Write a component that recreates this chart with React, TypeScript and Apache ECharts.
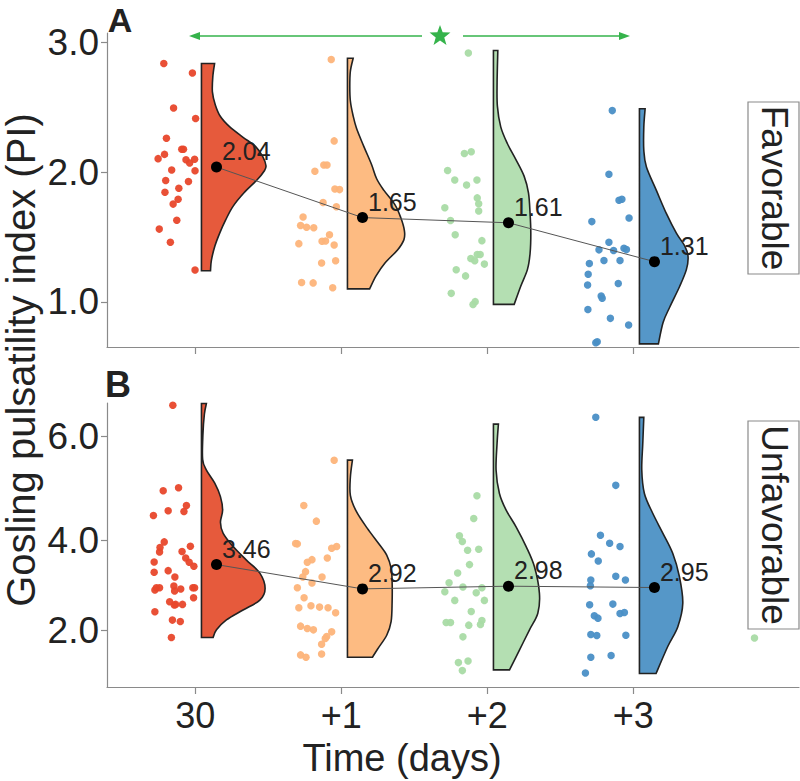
import React, { useEffect, useRef } from 'react';
import * as echarts from 'echarts';

const FONT = '"Liberation Sans", Arial, Helvetica, sans-serif';

const CATEGORIES = ['30', '+1', '+2', '+3'];
const CAT_X = [1, 2, 3, 4];
const FILL_COLORS = ['#e65a3c', '#fdbb82', '#b4dfb2', '#5597c8'];
const POINT_COLORS = ['#e8472b', '#fdb47a', '#a9dba5', '#4a8fc6'];

const MEANS_FAV = [2.04, 1.65, 1.61, 1.31];
const MEANS_UNFAV = [3.46, 2.92, 2.98, 2.95];

const Y_TICKS_FAV = [1, 2, 3];
const Y_TICKS_UNFAV = [2, 4, 6.31];
const Y_TICK_LABELS_UNFAV = ['2.0', '4.0', '6.0'];

// [jitter offset from category, PI value]
const FAV_30 = [[-0.216, 2.84], [-0.02, 2.766], [-0.149, 2.496], [0.002, 2.415], [-0.198, 2.262], [-0.093, 2.178], [-0.081, 2.178], [-0.211, 2.138], [-0.255, 2.105], [-0.064, 2.097], [-0.005, 2.1], [-0.039, 2.072], [-0.162, 2.018], [-0.002, 2.011], [-0.203, 1.937], [-0.047, 1.929], [-0.113, 1.876], [-0.208, 1.845], [-0.118, 1.792], [-0.152, 1.754], [-0.127, 1.629], [-0.247, 1.561], [-0.171, 1.459], [-0.002, 1.246]];
const FAV_P1 = [[-0.069, 2.87], [-0.049, 2.242], [-0.12, 2.056], [-0.098, 2.056], [-0.181, 2.008], [-0.044, 1.871], [-0.012, 1.866], [-0.125, 1.767], [-0.034, 1.734], [-0.262, 1.655], [-0.279, 1.589], [-0.238, 1.576], [-0.189, 1.571], [-0.081, 1.518], [-0.132, 1.467], [-0.108, 1.469], [-0.291, 1.449], [-0.049, 1.439], [-0.039, 1.317], [-0.135, 1.299], [-0.272, 1.149], [-0.193, 1.146], [-0.059, 1.108]];
const FAV_P2 = [[-0.13, 2.921], [-0.157, 2.145], [-0.11, 2.158], [-0.272, 2.013], [-0.223, 1.94], [-0.142, 1.901], [-0.071, 1.94], [-0.069, 1.802], [-0.059, 1.757], [-0.059, 1.701], [-0.291, 1.726], [-0.252, 1.627], [-0.22, 1.518], [-0.037, 1.472], [-0.069, 1.365], [-0.049, 1.365], [-0.113, 1.334], [-0.086, 1.317], [-0.02, 1.291], [-0.213, 1.248], [-0.149, 1.2], [-0.247, 1.065], [-0.083, 1.001], [-0.098, 0.979]];
const FAV_P3 = [[-0.144, 2.476], [-0.167, 1.985], [-0.098, 1.784], [-0.078, 1.792], [-0.029, 1.647], [-0.284, 1.619], [-0.167, 1.459], [-0.235, 1.401], [-0.135, 1.396], [-0.064, 1.413], [-0.047, 1.403], [-0.201, 1.319], [-0.091, 1.319], [-0.301, 1.296], [-0.309, 1.212], [-0.313, 1.129], [-0.103, 1.141], [-0.22, 1.045], [-0.213, 1.027], [-0.311, 0.94], [-0.157, 0.872], [-0.032, 0.821], [-0.247, 0.691], [-0.257, 0.684]];

const UNFAV_30 = [[-0.154, 7.0], [-0.22, 5.101], [-0.115, 5.168], [-0.061, 4.774], [-0.186, 4.655], [-0.078, 4.64], [-0.287, 4.551], [-0.213, 3.964], [-0.034, 3.868], [-0.242, 3.838], [-0.245, 3.741], [-0.091, 3.749], [-0.066, 3.607], [-0.042, 3.511], [-0.01, 3.422], [-0.282, 3.518], [-0.186, 3.325], [-0.282, 3.288], [-0.14, 3.184], [-0.267, 2.946], [-0.245, 2.946], [-0.277, 2.894], [-0.147, 2.983], [-0.1, 2.916], [-0.017, 2.946], [-0.005, 2.946], [-0.142, 2.872], [-0.012, 2.723], [-0.176, 2.634], [-0.135, 2.575], [-0.088, 2.575], [-0.144, 2.56], [-0.277, 2.411], [-0.157, 2.226], [-0.103, 2.196], [-0.164, 1.839]];
const UNFAV_P1 = [[-0.049, 5.777], [-0.257, 4.774], [-0.171, 4.425], [-0.313, 3.927], [-0.301, 3.92], [-0.032, 3.86], [-0.066, 3.823], [-0.201, 3.57], [-0.096, 3.607], [-0.233, 3.511], [-0.245, 3.303], [-0.132, 3.184], [-0.264, 3.184], [-0.201, 3.05], [-0.301, 2.946], [-0.255, 2.723], [-0.208, 2.545], [-0.149, 2.515], [-0.091, 2.5], [-0.291, 2.5], [-0.039, 2.389], [-0.279, 2.092], [-0.233, 2.04], [-0.191, 2.01], [-0.066, 1.965], [-0.1, 1.861], [-0.11, 1.817], [-0.135, 1.691], [-0.279, 1.453], [-0.242, 1.401], [-0.135, 1.475]];
const UNFAV_P2 = [[-0.071, 4.989], [-0.093, 4.484], [-0.191, 4.098], [-0.171, 3.972], [-0.135, 3.778], [-0.059, 3.801], [-0.122, 3.459], [-0.203, 3.273], [-0.262, 3.058], [-0.167, 2.961], [-0.037, 2.946], [-0.291, 2.857], [-0.076, 2.835], [-0.223, 2.664], [-0.02, 2.664], [-0.11, 2.419], [-0.282, 2.173], [-0.252, 2.173], [-0.127, 2.114], [-0.037, 2.218], [-0.047, 2.129], [-0.167, 1.854], [-0.198, 1.282], [-0.132, 1.319], [-0.171, 1.104], [1.83, 1.83]];
const UNFAV_P3 = [[-0.257, 6.735], [-0.12, 5.22], [-0.225, 4.113], [-0.162, 3.934], [-0.091, 3.86], [-0.287, 3.697], [-0.24, 3.541], [-0.291, 3.117], [-0.12, 3.199], [-0.054, 3.117], [-0.294, 2.991], [-0.299, 2.567], [-0.14, 2.582], [-0.267, 2.322], [-0.242, 2.27], [-0.091, 2.374], [-0.061, 2.396], [-0.291, 1.906], [-0.25, 1.884], [-0.051, 1.891], [-0.152, 1.438], [-0.291, 1.401], [-0.328, 1.052]];

// density profiles [PI value, half-violin width in x units], top to bottom
const DENS_FAV_30 = [[2.84, 0.09], [2.74, 0.078], [2.62, 0.075], [2.52, 0.095], [2.43, 0.13], [2.35, 0.194], [2.27, 0.285], [2.2, 0.37], [2.12, 0.42], [2.05, 0.442], [2.01, 0.43], [1.94, 0.38], [1.84, 0.29], [1.735, 0.215], [1.63, 0.165], [1.53, 0.125], [1.43, 0.092], [1.32, 0.068], [1.24, 0.062]];
const DENS_FAV_P1 = [[2.88, 0.039], [2.78, 0.02], [2.66, 0.016], [2.55, 0.02], [2.44, 0.038], [2.34, 0.062], [2.2, 0.112], [2.06, 0.165], [1.95, 0.2], [1.86, 0.25], [1.75, 0.325], [1.65, 0.365], [1.55, 0.39], [1.48, 0.387], [1.4, 0.343], [1.3, 0.257], [1.2, 0.196], [1.1, 0.152]];
const DENS_FAV_P2 = [[2.94, 0.03], [2.69, 0.025], [2.51, 0.027], [2.35, 0.05], [2.22, 0.096], [2.1, 0.153], [1.97, 0.21], [1.84, 0.24], [1.68, 0.251], [1.53, 0.256], [1.375, 0.251], [1.25, 0.233], [1.12, 0.187], [0.98, 0.142]];
const DENS_FAV_P3 = [[2.49, 0.039], [2.35, 0.03], [2.17, 0.03], [2.04, 0.048], [1.86, 0.116], [1.68, 0.185], [1.53, 0.253], [1.43, 0.311], [1.35, 0.333], [1.25, 0.322], [1.12, 0.276], [0.96, 0.208], [0.84, 0.162], [0.675, 0.13]];

const DENS_UNFAV_30 = [[7.04, 0.034], [6.8, 0.02], [6.35, 0.01], [5.8, 0.008], [5.56, 0.034], [5.27, 0.091], [4.97, 0.13], [4.67, 0.145], [4.4, 0.13], [4.16, 0.148], [3.86, 0.217], [3.56, 0.308], [3.27, 0.4], [2.93, 0.436], [2.67, 0.4], [2.45, 0.285], [2.23, 0.171], [2.01, 0.103], [1.84, 0.08]];
const DENS_UNFAV_P1 = [[5.78, 0.034], [5.4, 0.02], [5.0, 0.02], [4.64, 0.061], [4.27, 0.135], [3.9, 0.22], [3.67, 0.269], [3.38, 0.299], [3.08, 0.306], [2.63, 0.306], [2.19, 0.299], [1.89, 0.269], [1.59, 0.208], [1.4, 0.171]];
const DENS_UNFAV_P2 = [[6.58, 0.034], [6.16, 0.025], [5.56, 0.018], [5.04, 0.041], [4.67, 0.087], [4.3, 0.155], [3.86, 0.224], [3.41, 0.281], [2.82, 0.315], [2.38, 0.304], [2.01, 0.247], [1.56, 0.178], [1.12, 0.11]];
const DENS_UNFAV_P3 = [[6.73, 0.03], [6.16, 0.023], [5.56, 0.016], [5.04, 0.034], [4.6, 0.091], [4.16, 0.16], [3.71, 0.228], [3.19, 0.274], [2.6, 0.297], [2.08, 0.263], [1.64, 0.194], [1.04, 0.114]];

const POINTS_FAV = [FAV_30, FAV_P1, FAV_P2, FAV_P3];
const POINTS_UNFAV = [UNFAV_30, UNFAV_P1, UNFAV_P2, UNFAV_P3];
const DENS_FAV = [DENS_FAV_30, DENS_FAV_P1, DENS_FAV_P2, DENS_FAV_P3];
const DENS_UNFAV = [DENS_UNFAV_30, DENS_UNFAV_P1, DENS_UNFAV_P2, DENS_UNFAV_P3];

const VIOLIN_OFFSET = 0.042;
const MEAN_OFFSET = 0.145;
const GREEN = '#35b34b';

function violinRenderer(profiles: number[][][]) {
  return (params: any, api: any) => {
    const g = api.value(0);
    const prof = profiles[g];
    const x0 = CAT_X[g] + VIOLIN_OFFSET;
    const pts = prof.map(([v, w]) => api.coord([x0 + w, v]));
    const top = api.coord([x0, prof[0][0]]);
    const bot = api.coord([x0, prof[prof.length - 1][0]]);
    let d = `M${top[0]},${top[1]} L${pts[0][0]},${pts[0][1]}`;
    for (let i = 0; i < pts.length - 1; i++) {
      const p0 = pts[Math.max(i - 1, 0)];
      const p1 = pts[i];
      const p2 = pts[i + 1];
      const p3 = pts[Math.min(i + 2, pts.length - 1)];
      const c1x = p1[0] + (p2[0] - p0[0]) / 6;
      const c1y = p1[1] + (p2[1] - p0[1]) / 6;
      const c2x = p2[0] - (p3[0] - p1[0]) / 6;
      const c2y = p2[1] - (p3[1] - p1[1]) / 6;
      d += ` C${c1x},${c1y} ${c2x},${c2y} ${p2[0]},${p2[1]}`;
    }
    d += ` L${bot[0]},${bot[1]} Z`;
    return {
      type: 'path',
      shape: { pathData: d },
      style: { fill: FILL_COLORS[g], stroke: '#222', lineWidth: 1.6 },
    };
  };
}

function starPoints(cx: number, cy: number, R: number, r: number) {
  const pts: number[][] = [];
  for (let i = 0; i < 10; i++) {
    const a = -Math.PI / 2 + (i * Math.PI) / 5;
    const rad = i % 2 === 0 ? R : r;
    pts.push([cx + rad * Math.cos(a), cy + rad * Math.sin(a)]);
  }
  return pts;
}

function panelSeries(idx: number, points: number[][][], dens: number[][][], means: number[]) {
  const out: any[] = [];
  out.push({
    type: 'custom',
    xAxisIndex: idx,
    yAxisIndex: idx,
    renderItem: violinRenderer(dens),
    data: [[0, 0], [1, 0], [2, 0], [3, 0]],
    z: 2,
    silent: true,
  });
  points.forEach((grp, g) => {
    out.push({
      type: 'scatter',
      xAxisIndex: idx,
      yAxisIndex: idx,
      symbolSize: 7.5,
      itemStyle: { color: POINT_COLORS[g], opacity: 0.95 },
      data: grp.map(([dx, v]) => [CAT_X[g] + dx, v]),
      z: 3,
    });
  });
  out.push({
    type: 'line',
    xAxisIndex: idx,
    yAxisIndex: idx,
    data: means.map((m, i) => [CAT_X[i] + MEAN_OFFSET, m]),
    symbol: 'circle',
    symbolSize: 11,
    itemStyle: { color: '#000' },
    lineStyle: { color: '#555', width: 1 },
    label: {
      show: true,
      position: 'right',
      distance: 0,
      offset: [0, -16],
      formatter: (p: any) => p.value[1].toFixed(2),
      fontFamily: FONT,
      fontSize: 25,
      color: '#222',
    },
    z: 5,
  });
  return out;
}

const axisLineStyle = { color: '#8a8a8a', width: 1.2 };

export default function App() {
  const ref = useRef<HTMLDivElement>(null);
  useEffect(() => {
    if (!ref.current) return;
    const chart = echarts.init(ref.current, undefined, { renderer: 'svg' });
    const xBase = {
      type: 'value',
      min: 0.395,
      max: 5.135,
      axisLine: { show: true, lineStyle: axisLineStyle },
      axisTick: { show: true, length: 7, customValues: CAT_X, lineStyle: axisLineStyle },
      splitLine: { show: false },
    };
    const yBase = {
      type: 'value',
      axisLine: { show: true, lineStyle: axisLineStyle },
      splitLine: { show: false },
    };
    const option: any = {
      animation: false,
      backgroundColor: '#fff',
      grid: [
        { left: 107, top: 33, width: 692, height: 314 },
        { left: 107, top: 403, width: 692, height: 284 },
      ],
      xAxis: [
        { ...xBase, gridIndex: 0, axisLabel: { show: false } },
        {
          ...xBase,
          gridIndex: 1,
          axisLabel: {
            show: true,
            customValues: CAT_X,
            formatter: (v: number) => CATEGORIES[CAT_X.indexOf(v)] ?? '',
            fontFamily: FONT,
            fontSize: 36,
            color: '#222',
            margin: 10,
          },
        },
      ],
      yAxis: [
        {
          ...yBase,
          gridIndex: 0,
          min: 0.651,
          max: 3.075,
          axisTick: { show: true, length: 6, customValues: Y_TICKS_FAV, lineStyle: axisLineStyle },
          axisLabel: {
            customValues: Y_TICKS_FAV,
            formatter: (v: number) => v.toFixed(1),
            fontFamily: FONT,
            fontSize: 37,
            color: '#222',
            margin: 8,
          },
        },
        {
          ...yBase,
          gridIndex: 1,
          min: 0.74,
          max: 7.05,
          axisTick: { show: true, length: 6, customValues: Y_TICKS_UNFAV, lineStyle: axisLineStyle },
          axisLabel: {
            customValues: Y_TICKS_UNFAV,
            formatter: (v: number) => Y_TICK_LABELS_UNFAV[Y_TICKS_UNFAV.indexOf(v)] ?? '',
            fontFamily: FONT,
            fontSize: 37,
            color: '#222',
            margin: 8,
          },
        },
      ],
      series: [
        ...panelSeries(0, POINTS_FAV, DENS_FAV, MEANS_FAV),
        ...panelSeries(1, POINTS_UNFAV, DENS_UNFAV, MEANS_UNFAV),
      ],
      graphic: [
        {
          type: 'text', x: 120, y: 20,
          style: { text: 'A', font: `bold 34px ${FONT}`, fill: '#222', align: 'center', verticalAlign: 'middle', lineHeight: 34 },
        },
        {
          type: 'text', x: 118, y: 384,
          style: { text: 'B', font: `bold 36px ${FONT}`, fill: '#222', align: 'center', verticalAlign: 'middle', lineHeight: 36 },
        },
        {
          type: 'text',
          x: 21,
          y: 360,
          rotation: Math.PI / 2,
          style: {
            text: 'Gosling pulsatility index (PI)',
            font: `40px ${FONT}`,
            fill: '#222',
            align: 'center',
            verticalAlign: 'middle',
            lineHeight: 40,
          },
        },
        {
          type: 'text',
          x: 402,
          y: 758,
          style: { text: 'Time (days)', font: `38px ${FONT}`, fill: '#222', align: 'center', verticalAlign: 'middle' },
        },
        // strip labels
        { type: 'rect', shape: { x: 748, y: 102, width: 51, height: 172 }, style: { fill: '#fff', stroke: '#8a8a8a', lineWidth: 1.2 }, z: 10 },
        {
          type: 'text', x: 774, y: 188, rotation: -Math.PI / 2, z: 11,
          style: { text: 'Favorable', font: `37px ${FONT}`, fill: '#222', align: 'center', verticalAlign: 'middle' },
        },
        { type: 'rect', shape: { x: 748, y: 421, width: 51, height: 208 }, style: { fill: '#fff', stroke: '#8a8a8a', lineWidth: 1.2 }, z: 10 },
        {
          type: 'text', x: 774, y: 525, rotation: -Math.PI / 2, z: 11,
          style: { text: 'Unfavorable', font: `37px ${FONT}`, fill: '#222', align: 'center', verticalAlign: 'middle' },
        },
        // significance bracket
        { type: 'line', shape: { x1: 196, y1: 36, x2: 422, y2: 36 }, style: { stroke: GREEN, lineWidth: 1.5 } },
        { type: 'polygon', shape: { points: [[189, 36], [200, 32], [200, 40]] }, style: { fill: GREEN } },
        { type: 'line', shape: { x1: 463, y1: 36, x2: 623, y2: 36 }, style: { stroke: GREEN, lineWidth: 1.5 } },
        { type: 'polygon', shape: { points: [[630, 36], [619, 32], [619, 40]] }, style: { fill: GREEN } },
        { type: 'polygon', shape: { points: starPoints(440, 36, 11, 4.5) }, style: { fill: GREEN } },
      ],
    };
    chart.setOption(option);
    return () => chart.dispose();
  }, []);
  return (
    <div
      ref={ref}
      style={{ position: 'fixed', left: 0, top: 0, width: 800, height: 781, background: '#fff' }}
    />
  );
}
